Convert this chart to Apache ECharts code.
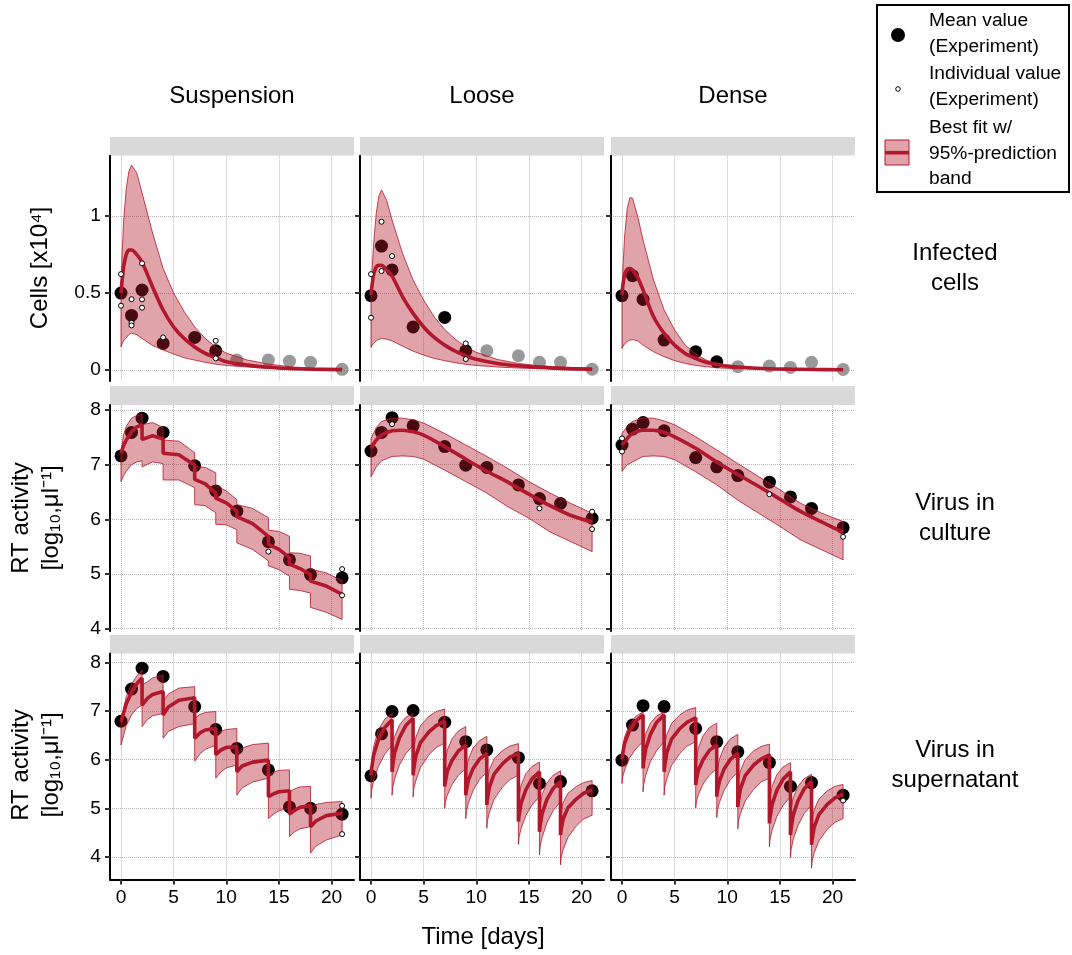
<!DOCTYPE html>
<html>
<head>
<meta charset="utf-8">
<title>Model fit panels</title>
<script src="https://cdn.jsdelivr.net/npm/echarts@6.0.0/dist/echarts.min.js"></script>
<style>
  html, body { margin: 0; padding: 0; background: #fff; }
  #chart { width: 1072px; height: 955px; }
</style>
</head>
<body>
<div id="chart"></div>
<script>
// ---- values ----
const meanDays = [0, 1, 2, 4, 7, 9, 11, 14, 16, 18, 21];
const lateDays = [11, 14, 16, 18, 21];
const xTicks = [0, 5, 10, 15, 20];
const cellTicks = [0, 0.5, 1];
const rtTicks = [4, 5, 6, 7, 8];

// infected cells (row 1)
const cellsSuspMean = [0.50, 0.355, 0.52, 0.173, 0.212, 0.125];
const cellsSuspLate = [0.065, 0.065, 0.058, 0.05, 0.005];
const cellsLooseMean = [0.483, 0.805, 0.65, 0.28, 0.342, 0.125];
const cellsLooseLate = [0.125, 0.093, 0.05, 0.05, 0.006];
const cellsDenseMean = [0.483, 0.613, 0.459, 0.195, 0.119, 0.054];
const cellsDenseLate = [0.022, 0.026, 0.017, 0.05, 0.004];
const cellsSuspIndiv = [[0, 0.623], [0, 0.418], [1, 0.46], [1, 0.307], [1, 0.29], [2, 0.693], [2, 0.459], [2, 0.405], [4, 0.212], [9, 0.19], [9, 0.076]];
const cellsLooseIndiv = [[0, 0.623], [0, 0.34], [1, 0.963], [1, 0.643], [2, 0.74], [9, 0.173], [9, 0.071]];
const cellsDenseIndiv = [];

const cellDays = [0, 0.1, 0.25, 0.5, 0.75, 1, 1.5, 2, 3, 4, 5, 6, 7, 8, 9, 10, 12, 14, 16, 18, 21];
const cellsSuspFit = [0.50, 0.58, 0.67, 0.75, 0.78, 0.78, 0.75, 0.70, 0.54, 0.39, 0.28, 0.205, 0.15, 0.108, 0.08, 0.054, 0.032, 0.018, 0.01, 0.006, 0.003];
const cellsSuspUpper = [0.50, 0.75, 0.97, 1.18, 1.29, 1.33, 1.28, 1.15, 0.89, 0.66, 0.50, 0.38, 0.28, 0.205, 0.15, 0.11, 0.065, 0.039, 0.022, 0.012, 0.005];
const cellsSuspLower = [0.15, 0.17, 0.19, 0.21, 0.23, 0.24, 0.23, 0.205, 0.16, 0.13, 0.104, 0.08, 0.065, 0.05, 0.038, 0.03, 0.02, 0.012, 0.008, 0.005, 0.003];
const cellsLooseFit = [0.49, 0.55, 0.62, 0.67, 0.68, 0.68, 0.65, 0.61, 0.476, 0.368, 0.28, 0.212, 0.162, 0.123, 0.093, 0.07, 0.043, 0.028, 0.018, 0.011, 0.006];
const cellsLooseUpper = [0.49, 0.65, 0.82, 1.02, 1.13, 1.17, 1.10, 0.974, 0.757, 0.584, 0.455, 0.346, 0.264, 0.20, 0.151, 0.115, 0.069, 0.043, 0.028, 0.02, 0.01];
const cellsLooseLower = [0.147, 0.16, 0.175, 0.19, 0.20, 0.205, 0.20, 0.19, 0.155, 0.123, 0.097, 0.076, 0.061, 0.048, 0.037, 0.03, 0.02, 0.013, 0.009, 0.006, 0.004];
const cellsDenseFit = [0.49, 0.56, 0.62, 0.655, 0.66, 0.65, 0.60, 0.52, 0.346, 0.238, 0.162, 0.108, 0.076, 0.05, 0.037, 0.026, 0.015, 0.009, 0.006, 0.004, 0.002];
const cellsDenseUpper = [0.49, 0.68, 0.87, 1.05, 1.12, 1.115, 0.995, 0.844, 0.584, 0.39, 0.26, 0.162, 0.104, 0.065, 0.043, 0.03, 0.017, 0.01, 0.007, 0.005, 0.003];
const cellsDenseLower = [0.14, 0.155, 0.17, 0.185, 0.195, 0.198, 0.19, 0.162, 0.119, 0.087, 0.061, 0.043, 0.03, 0.022, 0.015, 0.011, 0.007, 0.005, 0.004, 0.003, 0.002];

// virus in culture (row 2)
const cultSuspMean = [7.16, 7.59, 7.85, 7.59, 6.98, 6.52, 6.15, 5.59, 5.26, 4.99, 4.93];
const cultLooseMean = [7.25, 7.59, 7.86, 7.71, 7.33, 6.99, 6.95, 6.63, 6.38, 6.29, 6.02];
const cultDenseMean = [7.36, 7.65, 7.77, 7.62, 7.13, 6.96, 6.80, 6.68, 6.41, 6.20, 5.85];
const cultSuspIndiv = [[14, 5.41], [21, 5.09], [21, 4.61]];
const cultLooseIndiv = [[2, 7.74], [16, 6.20], [21, 6.14], [21, 5.82]];
const cultDenseIndiv = [[0, 7.48], [0, 7.24], [14, 6.46], [21, 5.68]];

const cultSuspDays = [0, 0.25, 0.5, 1, 1.5, 2, 2, 3, 4, 4, 5.5, 7, 7, 8, 9, 9, 10, 11, 11, 12.5, 14, 14, 15, 16, 16, 17, 18, 18, 19.5, 21];
const cultSuspFit = [7.21, 7.35, 7.45, 7.60, 7.69, 7.73, 7.46, 7.53, 7.47, 7.21, 7.18, 6.99, 6.73, 6.65, 6.48, 6.39, 6.30, 6.15, 6.05, 5.92, 5.69, 5.54, 5.45, 5.30, 5.18, 5.10, 4.99, 4.87, 4.78, 4.63];
const cultSuspUpper = [7.24, 7.55, 7.70, 7.85, 7.90, 7.92, 7.73, 7.77, 7.68, 7.45, 7.43, 7.22, 6.97, 6.95, 6.85, 6.62, 6.52, 6.36, 6.27, 6.20, 6.03, 5.80, 5.78, 5.69, 5.39, 5.38, 5.33, 5.09, 5.02, 4.88];
const cultSuspLower = [6.69, 6.80, 6.88, 7.00, 7.05, 7.07, 6.96, 7.05, 7.02, 6.72, 6.72, 6.58, 6.27, 6.25, 6.12, 5.91, 5.90, 5.81, 5.57, 5.45, 5.24, 5.15, 5.08, 4.96, 4.72, 4.70, 4.65, 4.39, 4.30, 4.17];

const cultDays = [0, 0.5, 1, 2, 3, 4, 5, 7, 9, 11, 13, 15, 17, 19, 21];
const cultLooseFit = [7.30, 7.45, 7.54, 7.62, 7.63, 7.60, 7.54, 7.33, 7.10, 6.88, 6.68, 6.46, 6.25, 6.07, 5.95];
const cultLooseUpper = [7.48, 7.68, 7.79, 7.85, 7.85, 7.82, 7.76, 7.57, 7.36, 7.15, 6.93, 6.69, 6.48, 6.29, 6.11];
const cultLooseLower = [6.78, 6.96, 7.07, 7.15, 7.16, 7.15, 7.10, 6.90, 6.69, 6.48, 6.23, 6.02, 5.77, 5.59, 5.41];
const cultDenseFit = [7.36, 7.48, 7.57, 7.63, 7.63, 7.59, 7.51, 7.30, 7.05, 6.82, 6.60, 6.37, 6.14, 5.95, 5.76];
const cultDenseUpper = [7.57, 7.70, 7.79, 7.85, 7.85, 7.80, 7.73, 7.51, 7.27, 7.02, 6.78, 6.54, 6.29, 6.11, 5.96];
const cultDenseLower = [6.88, 7.00, 7.05, 7.15, 7.16, 7.15, 7.09, 6.87, 6.63, 6.35, 6.11, 5.87, 5.62, 5.44, 5.26];

// virus in supernatant (row 3)
const superSuspMean = [6.79, 7.45, 7.88, 7.71, 7.09, 6.62, 6.23, 5.79, 5.03, 5.00, 4.88];
const superLooseMean = [5.67, 6.53, 6.99, 7.01, 6.77, 6.37, 6.20, 6.04, 5.51, 5.55, 5.36];
const superDenseMean = [5.99, 6.71, 7.11, 7.09, 6.64, 6.37, 6.16, 5.94, 5.45, 5.53, 5.27];
const superSuspIndiv = [[21, 5.05], [21, 4.47]];
const superLooseIndiv = [];
const superDenseIndiv = [[21, 5.16]];

const superSuspDays = [0, 0.5, 1, 1.5, 2, 2, 2.5, 3, 4, 4, 4.5, 5.5, 7, 7, 7.5, 8, 9, 9, 9.5, 10, 11, 11, 11.5, 12.5, 14, 14, 14.5, 15, 16, 16, 16.5, 17, 18, 18, 18.5, 19.5, 21];
const superSuspFit = [6.78, 7.15, 7.38, 7.56, 7.68, 7.12, 7.26, 7.34, 7.40, 6.92, 7.08, 7.22, 7.27, 6.44, 6.55, 6.61, 6.64, 6.10, 6.20, 6.25, 6.27, 5.75, 5.87, 5.95, 5.99, 5.24, 5.30, 5.34, 5.36, 4.88, 4.96, 5.02, 5.06, 4.62, 4.74, 4.85, 4.90];
const superSuspUpper = [6.80, 7.30, 7.55, 7.72, 7.84, 7.53, 7.60, 7.68, 7.74, 7.19, 7.35, 7.47, 7.50, 6.85, 6.93, 6.97, 6.99, 6.51, 6.58, 6.62, 6.64, 6.13, 6.24, 6.31, 6.34, 5.68, 5.74, 5.78, 5.79, 5.34, 5.40, 5.44, 5.45, 5.00, 5.08, 5.12, 5.14];
const superSuspLower = [6.30, 6.70, 6.92, 7.05, 7.12, 6.68, 6.82, 6.90, 6.95, 6.44, 6.58, 6.68, 6.74, 5.97, 6.12, 6.21, 6.30, 5.62, 5.75, 5.83, 5.89, 5.27, 5.42, 5.54, 5.62, 4.79, 4.88, 4.95, 5.00, 4.42, 4.52, 4.58, 4.62, 4.08, 4.22, 4.35, 4.45];

const superDays = [0, 0.06, 0.25, 0.7, 1.3, 2, 2, 2.06, 2.25, 2.7, 3.3, 4, 4, 4.06, 4.25, 4.7, 5.5, 6.2, 7, 7, 7.06, 7.25, 7.7, 8.3, 9, 9, 9.06, 9.25, 9.7, 10.3, 11, 11, 11.06, 11.25, 11.7, 12.5, 13.2, 14, 14, 14.06, 14.25, 14.7, 15.3, 16, 16, 16.06, 16.25, 16.7, 17.3, 18, 18, 18.06, 18.25, 18.7, 19.5, 20.2, 21];
const superLooseFit = [5.68, 5.82, 6.09, 6.41, 6.66, 6.82, 5.75, 5.88, 6.15, 6.45, 6.70, 6.85, 5.68, 5.81, 6.07, 6.35, 6.57, 6.70, 6.79, 5.45, 5.55, 5.76, 5.99, 6.18, 6.30, 5.27, 5.37, 5.58, 5.82, 6.01, 6.13, 5.07, 5.20, 5.44, 5.71, 5.92, 6.05, 6.13, 4.73, 4.85, 5.10, 5.38, 5.61, 5.75, 4.52, 4.64, 4.89, 5.18, 5.41, 5.55, 4.45, 4.56, 4.78, 5.01, 5.19, 5.31, 5.38];
const superLooseUpper = [5.72, 5.97, 6.27, 6.61, 6.83, 6.95, 6.10, 6.27, 6.48, 6.71, 6.87, 6.95, 6.03, 6.23, 6.45, 6.70, 6.89, 6.99, 7.04, 5.80, 5.98, 6.20, 6.43, 6.59, 6.68, 5.62, 5.79, 6.01, 6.24, 6.39, 6.48, 5.42, 5.60, 5.80, 6.02, 6.19, 6.28, 6.33, 5.08, 5.25, 5.47, 5.71, 5.86, 5.95, 4.87, 5.05, 5.28, 5.52, 5.68, 5.77, 4.80, 4.95, 5.12, 5.31, 5.45, 5.53, 5.57];
const superLooseLower = [5.21, 5.37, 5.57, 5.86, 6.11, 6.30, 5.27, 5.42, 5.61, 5.89, 6.12, 6.30, 5.23, 5.40, 5.56, 5.84, 6.10, 6.25, 6.34, 5.00, 5.12, 5.27, 5.49, 5.68, 5.82, 4.79, 4.93, 5.11, 5.37, 5.59, 5.75, 4.59, 4.75, 4.92, 5.19, 5.44, 5.59, 5.68, 4.26, 4.41, 4.58, 4.85, 5.07, 5.24, 4.04, 4.21, 4.40, 4.70, 4.95, 5.14, 3.84, 3.99, 4.15, 4.40, 4.64, 4.78, 4.86];
const superDenseFit = [6.01, 6.12, 6.34, 6.59, 6.79, 6.92, 5.82, 5.95, 6.22, 6.52, 6.77, 6.92, 5.75, 5.88, 6.14, 6.42, 6.64, 6.77, 6.86, 5.48, 5.58, 5.78, 6.00, 6.19, 6.30, 5.24, 5.35, 5.56, 5.81, 6.01, 6.13, 5.03, 5.16, 5.40, 5.67, 5.89, 6.01, 6.10, 4.69, 4.82, 5.07, 5.37, 5.60, 5.75, 4.45, 4.58, 4.85, 5.15, 5.40, 5.55, 4.25, 4.37, 4.61, 4.87, 5.08, 5.21, 5.29];
const superDenseUpper = [6.05, 6.24, 6.47, 6.72, 6.89, 6.98, 6.17, 6.33, 6.53, 6.75, 6.90, 6.98, 6.10, 6.29, 6.51, 6.74, 6.92, 7.02, 7.07, 5.83, 6.01, 6.24, 6.49, 6.66, 6.75, 5.59, 5.78, 6.01, 6.26, 6.43, 6.52, 5.38, 5.57, 5.77, 6.00, 6.18, 6.27, 6.32, 5.04, 5.22, 5.45, 5.69, 5.85, 5.94, 4.80, 4.98, 5.21, 5.45, 5.61, 5.70, 4.60, 4.78, 4.97, 5.19, 5.36, 5.45, 5.49];
const superDenseLower = [5.51, 5.64, 5.79, 6.03, 6.22, 6.37, 5.34, 5.49, 5.68, 5.96, 6.19, 6.37, 5.27, 5.44, 5.60, 5.88, 6.13, 6.28, 6.37, 5.01, 5.13, 5.28, 5.50, 5.68, 5.82, 4.81, 4.95, 5.12, 5.37, 5.59, 5.75, 4.58, 4.74, 4.89, 5.15, 5.39, 5.54, 5.62, 4.21, 4.36, 4.55, 4.83, 5.06, 5.24, 3.99, 4.15, 4.35, 4.64, 4.89, 5.07, 3.77, 3.92, 4.08, 4.33, 4.57, 4.71, 4.79];

// ---- layout ----
const RED = '#b2182b';
const BAND = 'rgba(178, 24, 43, 0.4)';
const FONT = "'Liberation Sans', Arial, Helvetica, sans-serif";
const colLeft = [110, 360, 611];
const colW = 244;
const rowTop = [155.7, 405, 653.5];
const rowH = [225.3, 226, 226];
const stripTop = [137, 386, 635];
const stripH = [18.5, 19, 18.5];
const yMin = [-0.071, 3.958, 3.538];
const yMax = [1.392, 8.091, 8.181];
const yTicks = [cellTicks, rtTicks, rtTicks];

const panels = [
    { days: cellDays, fit: cellsSuspFit, upper: cellsSuspUpper, lower: cellsSuspLower, mean: cellsSuspMean, late: cellsSuspLate, indiv: cellsSuspIndiv, smooth: 0.3 },
    { days: cellDays, fit: cellsLooseFit, upper: cellsLooseUpper, lower: cellsLooseLower, mean: cellsLooseMean, late: cellsLooseLate, indiv: cellsLooseIndiv, smooth: 0.3 },
    { days: cellDays, fit: cellsDenseFit, upper: cellsDenseUpper, lower: cellsDenseLower, mean: cellsDenseMean, late: cellsDenseLate, indiv: cellsDenseIndiv, smooth: 0.3 },
    { days: cultSuspDays, fit: cultSuspFit, upper: cultSuspUpper, lower: cultSuspLower, mean: cultSuspMean, indiv: cultSuspIndiv, smooth: false },
    { days: cultDays, fit: cultLooseFit, upper: cultLooseUpper, lower: cultLooseLower, mean: cultLooseMean, indiv: cultLooseIndiv, smooth: 0.3 },
    { days: cultDays, fit: cultDenseFit, upper: cultDenseUpper, lower: cultDenseLower, mean: cultDenseMean, indiv: cultDenseIndiv, smooth: 0.3 },
    { days: superSuspDays, fit: superSuspFit, upper: superSuspUpper, lower: superSuspLower, mean: superSuspMean, indiv: superSuspIndiv, smooth: false },
    { days: superDays, fit: superLooseFit, upper: superLooseUpper, lower: superLooseLower, mean: superLooseMean, indiv: superLooseIndiv, smooth: false },
    { days: superDays, fit: superDenseFit, upper: superDenseUpper, lower: superDenseLower, mean: superDenseMean, indiv: superDenseIndiv, smooth: false }
];

function bandRenderer(p) {
    return function(params, api) {
        let pts = [];
        for (let k = 0; k < p.days.length; k++) {
            pts.push(api.coord([p.days[k], p.upper[k]]));
        }
        for (let k = p.days.length - 1; k >= 0; k--) {
            pts.push(api.coord([p.days[k], p.lower[k]]));
        }
        return {
            type: 'polygon',
            shape: { points: pts },
            style: { fill: BAND, stroke: RED, lineWidth: 0.8 }
        };
    };
}

let grids = [], xAxes = [], yAxes = [], series = [], graphics = [];

panels.forEach(function(p, i) {
    let r = Math.floor(i / 3), c = i % 3;
    grids.push({ left: colLeft[c], top: rowTop[r], width: colW, height: rowH[r] });

    let gridLine = { show: true, lineStyle: { color: '#b8b8b8', type: 'dotted', width: 1 } };
    xAxes.push({
        type: 'value', gridIndex: i, min: -1.045, max: 22.13,
        axisLine: { show: r === 2, onZero: false, lineStyle: { color: '#000', width: 2 } },
        axisTick: { show: r === 2, customValues: xTicks, length: 5, lineStyle: { color: '#333', width: 2 } },
        axisLabel: { show: r === 2, customValues: xTicks, margin: 9, color: '#000', fontSize: 19.2, fontFamily: FONT },
        splitLine: gridLine
    });
    yAxes.push({
        type: 'value', gridIndex: i, min: yMin[r], max: yMax[r],
        axisLine: { show: true, onZero: false, lineStyle: { color: '#000', width: 2 } },
        axisTick: { show: true, customValues: yTicks[r], length: 5, lineStyle: { color: '#333', width: 2 } },
        axisLabel: { show: c === 0, customValues: yTicks[r], margin: 9, color: '#000', fontSize: 19.2, fontFamily: FONT },
        splitLine: gridLine
    });

    // means sit under the band, so the band tints them
    series.push({
        type: 'scatter', xAxisIndex: i, yAxisIndex: i, z: 1, silent: true,
        symbolSize: 13, itemStyle: { color: '#000', opacity: 1 },
        data: p.mean.map((v, k) => [meanDays[k], v])
    });
    if (p.late) {
        series.push({
            type: 'scatter', xAxisIndex: i, yAxisIndex: i, z: 1, silent: true,
            symbolSize: 13, itemStyle: { color: '#999999', opacity: 1 },
            data: p.late.map((v, k) => [lateDays[k], v])
        });
    }
    series.push({
        type: 'custom', xAxisIndex: i, yAxisIndex: i, z: 3, silent: true,
        renderItem: bandRenderer(p),
        data: [[p.days[0], p.fit[0]]]
    });
    series.push({
        type: 'line', xAxisIndex: i, yAxisIndex: i, z: 4, silent: true,
        showSymbol: false, smooth: p.smooth,
        lineStyle: { color: RED, width: 3.6 },
        data: p.days.map((d, k) => [d, p.fit[k]])
    });
    if (p.indiv.length) {
        series.push({
            type: 'scatter', xAxisIndex: i, yAxisIndex: i, z: 5, silent: true,
            symbolSize: 5, itemStyle: { color: '#fff', borderColor: '#000', borderWidth: 1, opacity: 1 },
            data: p.indiv
        });
    }

    // grey facet strip above each panel
    graphics.push({
        type: 'rect', z: 0,
        shape: { x: colLeft[c], y: stripTop[r], width: colW, height: stripH[r] },
        style: { fill: '#d9d9d9' }
    });
});

function label(x, y, text, size, extra) {
    return Object.assign({
        type: 'text', x: x, y: y, z: 10,
        style: {
            text: text, fill: '#000', fontSize: size, fontFamily: FONT,
            align: 'center', verticalAlign: 'middle',
            textAlign: 'center', textVerticalAlign: 'middle', lineHeight: size * 1.25
        }
    }, extra || {});
}

['Suspension', 'Loose', 'Dense'].forEach(function(t, c) {
    graphics.push(label(colLeft[c] + colW / 2, 96, t, 24));
});
graphics.push(label(955, 268, 'Infected\ncells', 24));
graphics.push(label(955, 518, 'Virus in\nculture', 24));
graphics.push(label(955, 765, 'Virus in\nsupernatant', 24));
graphics.push(label(40, 268, 'Cells [x10\u2074]', 24, { rotation: Math.PI / 2 }));
graphics.push(label(36, 518, 'RT activity\n[log\u2081\u2080,\u03bcl\u207b\u00b9]', 24, { rotation: Math.PI / 2 }));
graphics.push(label(36, 765, 'RT activity\n[log\u2081\u2080,\u03bcl\u207b\u00b9]', 24, { rotation: Math.PI / 2 }));
graphics.push(label(483, 937, 'Time [days]', 24));

// legend box
graphics.push({ type: 'rect', z: 10, shape: { x: 877, y: 5, width: 192, height: 187 }, style: { fill: '#fff', stroke: '#000', lineWidth: 2 } });
graphics.push({ type: 'circle', z: 11, shape: { cx: 898, cy: 35, r: 7 }, style: { fill: '#000' } });
graphics.push({ type: 'circle', z: 11, shape: { cx: 898, cy: 89, r: 2.3 }, style: { fill: '#fff', stroke: '#000', lineWidth: 1 } });
graphics.push({ type: 'rect', z: 11, shape: { x: 885, y: 140, width: 24, height: 25 }, style: { fill: BAND, stroke: RED, lineWidth: 1 } });
graphics.push({ type: 'line', z: 12, shape: { x1: 885, y1: 152.7, x2: 909, y2: 152.7 }, style: { stroke: RED, lineWidth: 3.6 } });
const legendLines = [['Mean value', 21], ['(Experiment)', 47], ['Individual value', 74], ['(Experiment)', 100],
    ['Best fit w/', 128], ['95%-prediction', 154], ['band', 179]];
legendLines.forEach(function(l) {
    graphics.push({
        type: 'text', x: 929, y: l[1], z: 12,
        style: { text: l[0], fill: '#000', fontSize: 19.2, fontFamily: FONT, align: 'left', verticalAlign: 'middle', textAlign: 'left', textVerticalAlign: 'middle' }
    });
});

let chart = echarts.init(document.getElementById('chart'), null, { renderer: 'canvas' });
chart.setOption({
    animation: false,
    backgroundColor: '#fff',
    grid: grids,
    xAxis: xAxes,
    yAxis: yAxes,
    series: series,
    graphic: graphics
});
</script>
</body>
</html>
